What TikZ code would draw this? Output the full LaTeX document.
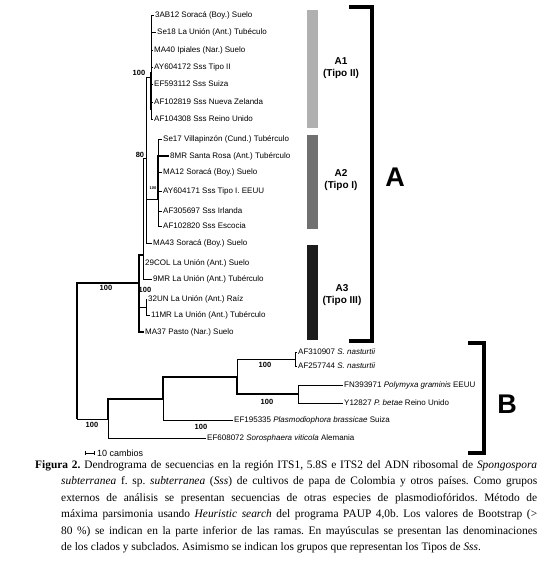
\documentclass[tikz,border=0pt]{standalone}
\usepackage{fontspec}
\setmainfont{Liberation Serif}
\setsansfont{Liberation Sans}
\usepackage{tikz}
\usetikzlibrary{positioning, arrows.meta}
\definecolor{barlight}{RGB}{176,176,176}
\definecolor{barmid}{RGB}{112,112,112}
\definecolor{bardark}{RGB}{28,28,28}
\frenchspacing

\begin{document}
\begin{tikzpicture}[
    x=1pt, y=-1pt,
    leaf/.style={anchor=west, inner sep=1pt, font=\sffamily\fontsize{8}{9}\selectfont},
    boot/.style={inner sep=0pt, font=\sffamily\bfseries\fontsize{7.5}{8}\selectfont},
    branch/.style={line width=0.7pt},
    strong/.style={line width=1.5pt},
    bar/.style={minimum width=11pt, inner sep=0pt},
    sublabel/.style={align=center, font=\sffamily\bfseries\fontsize{10}{12}\selectfont},
    bracket/.style={line width=3.5pt},
    clade/.style={font=\sffamily\bfseries\fontsize{27}{27}\selectfont}
]
\useasboundingbox (0,0) rectangle (547,566);

% Internal nodes
\coordinate (root) at (77,419);
\coordinate (nA) at (139,283);
\coordinate (n80) at (143,255);
\coordinate (n1) at (146,158);
\coordinate (nA1) at (151,77);
\coordinate (nA2) at (158,199);
\coordinate (nC) at (146,307);
\coordinate (nB) at (108,419);
\coordinate (nB1) at (163,399);
\coordinate (nB2) at (237,377);
\coordinate (nNas) at (295,359);
\coordinate (nPol) at (298,394);

% Leaves, clade A
\node[leaf] (ab12) at (154,15) {3AB12 Soracá (Boy.) Suelo};
\node[leaf] (se18) at (156,32) {Se18 La Unión (Ant.) Tubéculo};
\node[leaf] (ma40) at (153,50) {MA40 Ipiales (Nar.) Suelo};
\node[leaf] (ay604172) at (153,67) {AY604172 Sss Tipo II};
\node[leaf] (ef593112) at (153,84) {EF593112 Sss Suiza};
\node[leaf] (af102819) at (153,102) {AF102819 Sss Nueva Zelanda};
\node[leaf] (af104308) at (153,119) {AF104308 Sss Reino Unido};
\node[leaf] (se17) at (162,139) {Se17 Villapinzón (Cund.) Tubérculo};
\node[leaf] (mr8) at (169,156) {8MR Santa Rosa (Ant.) Tubérculo};
\node[leaf] (ma12) at (162,172) {MA12 Soracá (Boy.) Suelo};
\node[leaf] (ay604171) at (162,191) {AY604171 Sss Tipo I. EEUU};
\node[leaf] (af305697) at (162,211) {AF305697 Sss Irlanda};
\node[leaf] (af102820) at (162,226) {AF102820 Sss Escocia};
\node[leaf] (ma43) at (152,243) {MA43 Soracá (Boy.) Suelo};
\node[leaf] (col29) at (144,263) {29COL La Unión (Ant.) Suelo};
\node[leaf] (mr9) at (152,279) {9MR La Unión (Ant.) Tubérculo};
\node[leaf] (un32) at (147,299) {32UN La Unión (Ant.) Raíz};
\node[leaf] (mr11) at (150,315) {11MR La Unión (Ant.) Tubérculo};
\node[leaf] (ma37) at (144,332) {MA37 Pasto (Nar.) Suelo};

% Leaves, clade B
\node[leaf] (af310907) at (297,352) {AF310907 \textit{S. nasturtii}};
\node[leaf] (af257744) at (297,366) {AF257744 \textit{S. nasturtii}};
\node[leaf] (fn393971) at (343,385) {FN393971 \textit{Polymyxa graminis} EEUU};
\node[leaf] (y12827) at (343,403) {Y12827 \textit{P. betae} Reino Unido};
\node[leaf] (ef195335) at (233,420) {EF195335 \textit{Plasmodiophora brassicae} Suiza};
\node[leaf] (ef608072) at (206,438) {EF608072 \textit{Sorosphaera viticola} Alemania};

% Bootstrap values
\node[boot] (b1) at (139,73) {100};
\node[boot] (b2) at (140,155) {80};
\node[boot, font=\sffamily\bfseries\fontsize{4}{4}\selectfont] (b3) at (153,188) {100};
\node[boot] (b4) at (106,288) {100};
\node[boot] (b5) at (145,290) {100};
\node[boot] (b6) at (92,425) {100};
\node[boot] (b7) at (265,365) {100};
\node[boot] (b8) at (267,402) {100};
\node[boot] (b9) at (201,427) {100};

% Edges
\draw[strong] (root) |- (nA);
\draw[branch] (root) -- (nB);
\draw[strong] (nA) |- (n80) (nA) |- (ma37.west);
\draw[branch] (nA) |- (nC);
\draw[branch] (n80) |- (n1) (n80) |- (col29.west) (n80) |- (mr9.west);
\draw[branch] (n1) |- (nA1) (n1) |- (nA2) (n1) |- (ma43.west);
\draw[branch] (nA1) |- (ab12.west) (nA1) |- (se18.west) (nA1) |- (ma40.west)
    (nA1) |- (ay604172.west) (nA1) |- (ef593112.west) (nA1) |- (af102819.west)
    (nA1) |- (af104308.west);
\draw[strong] (nA1) ++(0,-5) -- ++(0,38);
\draw[branch] (nA2) |- (se17.west) (nA2) |- (ma12.west) (nA2) |- (ay604171.west)
    (nA2) |- (af305697.west) (nA2) |- (af102820.west);
\draw[strong] (nA2) |- (mr8.west);
\draw[branch] (nC) |- (un32.west) (nC) |- (mr11.west);
\draw[strong] (nB) |- (nB1) (nB1) |- (nB2) (nB2) |- (nPol);
\draw[branch] (nB) |- (ef608072.west) (nB1) |- (ef195335.west) (nB2) |- (nNas);
\draw[branch] (nNas) |- (af310907.west) (nNas) |- (af257744.west);
\draw[branch] (nPol) |- (fn393971.west) (nPol) |- (y12827.west);

% Scale
\coordinate (sc1) at (85,453);
\coordinate (sc2) at (95,453);
\draw[branch, {Bar[width=4pt]}-{Bar[width=4pt]}] (sc1) -- (sc2);
\node[leaf, font=\sffamily\fontsize{9}{10}\selectfont, right=1pt of sc2] (scale) {10 cambios};

% Subclades and clades
\node[bar, fill=barlight, minimum height=118pt] (barA1) at (312.5,69) {};
\node[bar, fill=barmid, minimum height=94pt] (barA2) at (312.5,182) {};
\node[bar, fill=bardark, minimum height=95pt] (barA3) at (312.5,292.5) {};
\node[sublabel] (tA1) at (341,68) {A1\\(Tipo II)};
\node[sublabel] (tA2) at (341,180) {A2\\(Tipo I)};
\node[sublabel] (tA3) at (342,295) {A3\\(Tipo III)};
\draw[bracket] (349,7) -| (372,341) -- (349,341);
\node[clade] (cA) at (395,177) {A};
\draw[bracket] (468,343) -| (484,453) -- (468,453);
\node[clade] (cB) at (507,404) {B};

% Caption
\node[anchor=north west, inner sep=0pt, align=left,
      font=\fontsize{11.4}{16.5}\selectfont] (caption) at (35,460) {%
\hbox to 502pt{\textbf{Figura 2.} Dendrograma de secuencias en la región ITS1, 5.8S e ITS2 del ADN ribosomal de \textit{Spongospora}}\\
\hbox to 502pt{\hskip26pt\textit{subterranea} f. sp. \textit{subterranea} (\textit{Sss}) de cultivos de papa de Colombia y otros países. Como grupos}\\
\hbox to 502pt{\hskip26pt externos de análisis se presentan secuencias de otras especies de plasmodiofóridos. Método de}\\
\hbox to 502pt{\hskip26pt máxima parsimonia usando \textit{Heuristic search} del programa PAUP 4,0b. Los valores de Bootstrap (>}\\
\hbox to 502pt{\hskip26pt 80 \%) se indican en la parte inferior de las ramas. En mayúsculas se presentan las denominaciones}\\
\hbox{\hskip26pt de los clados y subclados. Asimismo se indican los grupos que representan los Tipos de \textit{Sss}.}};

\end{tikzpicture}
\end{document}
